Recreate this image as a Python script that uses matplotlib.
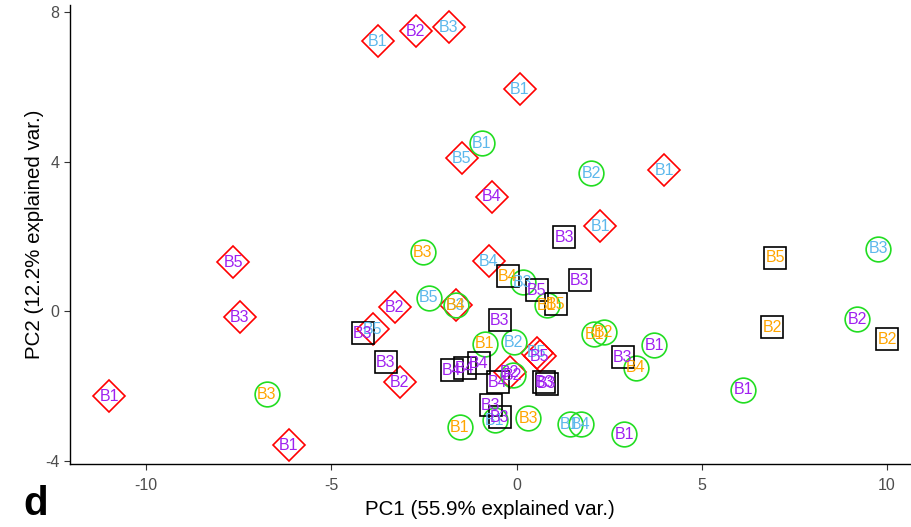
import matplotlib.pyplot as plt

plt.rcParams['font.family'] = ['Liberation Sans', 'DejaVu Sans']
plt.rcParams['axes.unicode_minus'] = False

# PCA scores, one set of arrays per marker group
dia_pc1 = [-3.75, -2.72, -1.83, 0.08, -1.48, 3.99, -0.67, 2.26, -0.75, -7.65,
           -7.47, -3.29, -1.64, -3.88, -3.15, -0.19, 0.54, 0.62, -11.0, -6.15]
dia_pc2 = [7.22, 7.49, 7.59, 5.94, 4.09, 3.77, 3.07, 2.27, 1.34, 1.31,
           -0.16, 0.11, 0.16, -0.48, -1.90, -1.63, -1.10, -1.20, -2.27, -3.58]
dia_lab = ['B1', 'B2', 'B3', 'B1', 'B5', 'B1', 'B4', 'B1', 'B4', 'B5',
           'B3', 'B2', 'B3', 'B5', 'B2', 'B2', 'B5', 'B5', 'B1', 'B1']
dia_grp = ['b', 'p', 'b', 'b', 'b', 'b', 'p', 'b', 'b', 'p',
           'p', 'p', 'b', 'b', 'p', 'p', 'b', 'p', 'p', 'p']

cir_pc1 = [-0.94, 2.02, -2.53, 9.76, -2.37, -1.64, 0.16, 0.81, 9.19, 2.10,
           2.35, -0.86, -0.08, 3.72, 3.21, -0.11, 6.12, -6.74, -0.59, 0.32,
           1.43, 1.73, -1.54, 2.91]
cir_pc2 = [4.49, 3.69, 1.58, 1.68, 0.37, 0.16, 0.78, 0.16, -0.21, -0.61,
           -0.56, -0.86, -0.83, -0.91, -1.50, -1.71, -2.09, -2.22, -2.91, -2.86,
           -3.02, -3.02, -3.10, -3.29]
cir_lab = ['B1', 'B2', 'B3', 'B3', 'B5', 'B4', 'B3', 'B1', 'B2', 'B1',
           'B2', 'B1', 'B2', 'B1', 'B4', 'B2', 'B1', 'B3', 'B1', 'B3',
           'B1', 'B4', 'B1', 'B1']
cir_grp = ['b', 'b', 'o', 'b', 'b', 'o', 'b', 'o', 'p', 'o',
           'o', 'o', 'b', 'p', 'o', 'p', 'p', 'o', 'b', 'o',
           'b', 'b', 'o', 'p']

sq_pc1 = [1.29, 1.70, 6.98, -0.24, 0.54, 1.05, -0.46, 6.90, 10.0, -4.15,
          -3.53, -1.75, -1.40, -1.02, -0.51, 0.75, 0.81, 2.86, -0.70, -0.46]
sq_pc2 = [1.98, 0.83, 1.44, 0.94, 0.56, 0.19, -0.24, -0.43, -0.75, -0.59,
          -1.36, -1.58, -1.52, -1.39, -1.90, -1.90, -1.93, -1.23, -2.51, -2.83]
sq_lab = ['B3', 'B3', 'B5', 'B4', 'B5', 'B5', 'B3', 'B2', 'B2', 'B3',
          'B3', 'B4', 'B4', 'B4', 'B4', 'B3', 'B3', 'B3', 'B3', 'B3']
sq_grp = ['p', 'p', 'o', 'o', 'p', 'o', 'p', 'o', 'o', 'p',
          'p', 'p', 'p', 'p', 'p', 'p', 'p', 'p', 'p', 'p']

text_col = {'p': '#A020F0', 'b': '#5DB8EC', 'o': '#FFA500'}

fig = plt.figure(figsize=(9.11, 5.27), dpi=100)
ax = fig.add_axes([0.077, 0.1195, 0.922, 0.871])

groups = [
    (dia_pc1, dia_pc2, dia_lab, dia_grp, 'D', 16.8, '#FF0000'),
    (cir_pc1, cir_pc2, cir_lab, cir_grp, 'o', 17.8, '#22DD22'),
    (sq_pc1, sq_pc2, sq_lab, sq_grp, 's', 16.3, '#000000'),
]
for xs, ys, labs, grp, mk, ms, ec in groups:
    ax.plot(xs, ys, linestyle='none', marker=mk, markersize=ms,
            markerfacecolor='none', markeredgecolor=ec, markeredgewidth=1.2)
    for x, y, t, g in zip(xs, ys, labs, grp):
        ax.text(x, y, t, color=text_col[g], fontsize=11.5,
                ha='center', va='center')

ax.set_xlim(-12.05, 10.62)
ax.set_ylim(-4.08, 8.19)
ax.set_xticks([-10, -5, 0, 5, 10])
ax.set_yticks([-4, 0, 4, 8])
ax.tick_params(colors='#333333', labelcolor='#4D4D4D', labelsize=11.5,
               length=4, width=0.8)
ax.tick_params(axis='x', pad=6)
for side in ['top', 'right']:
    ax.spines[side].set_visible(False)
for side in ['left', 'bottom']:
    ax.spines[side].set_linewidth(1.0)

ax.set_xlabel('PC1 (55.9% explained var.)', fontsize=14.8, labelpad=5)
ax.set_ylabel('PC2 (12.2% explained var.)', fontsize=14.8, labelpad=1)

fig.text(0.026, 0.022, 'd', fontsize=29, fontweight='bold')

fig.savefig('out.png', dpi=100)
